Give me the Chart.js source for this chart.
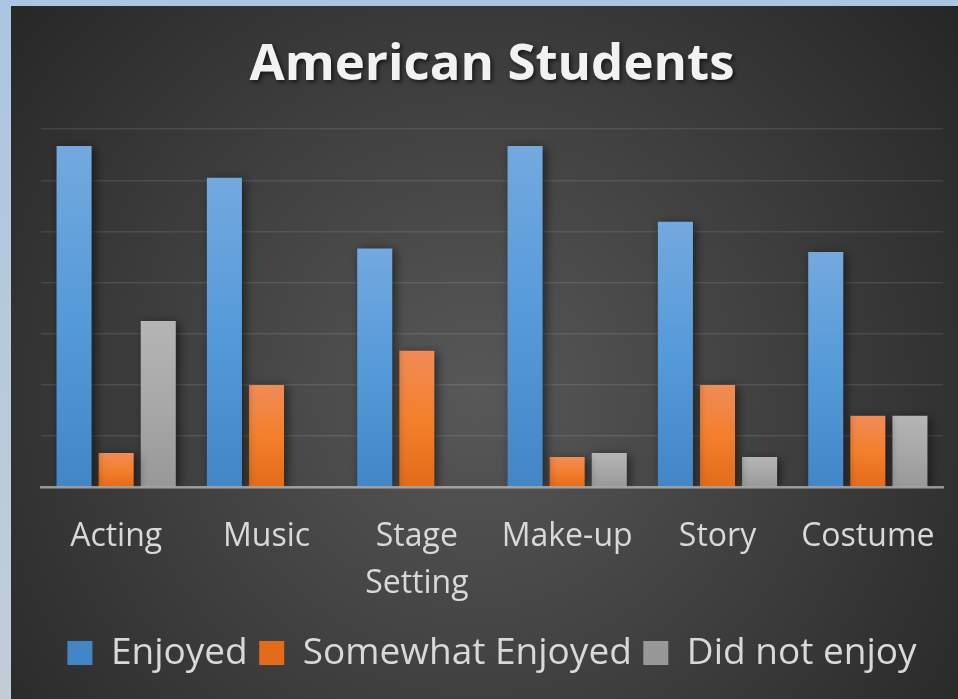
<!DOCTYPE html>
<html>
<head>
<meta charset="utf-8">
<script src="https://cdn.jsdelivr.net/npm/chart.js@4/dist/chart.umd.min.js"></script>
<style>
  html, body { margin: 0; padding: 0; width: 958px; height: 699px; overflow: hidden; }
  body { background: linear-gradient(#abc6e2, #c3cdd8); position: relative; }
  #wrap { position: absolute; left: 11px; top: 6px; width: 947px; height: 693px; }
</style>
</head>
<body>
<div id="wrap"><canvas id="c" width="947" height="693"></canvas></div>
<script>
// Activity categories (Stage Setting wraps onto two lines)
const categories = ['Acting', 'Music', ['Stage', 'Setting'], 'Make-up', 'Story', 'Costume'];
const seriesNames = ['Enjoyed', 'Somewhat Enjoyed', 'Did not enjoy'];

// Share of students per answer (%)
const enjoyed         = [66.7, 60.5, 46.7, 66.7, 51.9, 46.0];
const somewhatEnjoyed = [6.7, 20.0, 26.7, 5.9, 20.0, 14.0];
const didNotEnjoy     = [32.5, 0, 0, 6.7, 5.9, 14.0];

// Value axis range
const axisMin = 0;
const axisMax = 70;
const axisStep = 10;

// Per-bar vertical gradient, lighter at the top
function barFill(stops, solid) {
  return (ctx) => {
    const chart = ctx.chart;
    if (ctx.type !== 'data' || !chart.chartArea || !chart.scales.y) return solid;
    const y = chart.scales.y;
    const top = y.getPixelForValue(ctx.raw);
    const base = y.getPixelForValue(0);
    if (!(base - top > 0.5)) return solid;
    const g = chart.ctx.createLinearGradient(0, top, 0, base);
    stops.forEach(([o, c]) => g.addColorStop(o, c));
    return g;
  };
}

const blueStops   = [[0, '#73a9df'], [0.5, '#559ad9'], [1, '#4386c8']];
const orangeStops = [[0, '#f08c58'], [0.5, '#f47f2c'], [1, '#e36b19']];
const grayStops   = [[0, '#b5b5b5'], [0.5, '#a8a8a8'], [1, '#989898']];

// Dark radial backdrop behind the whole chart
const backdrop = {
  id: 'backdrop',
  beforeDraw(chart) {
    const { ctx, width, height } = chart;
    const g = ctx.createRadialGradient(465, 390, 0, 465, 390, 620);
    g.addColorStop(0, '#585858');
    g.addColorStop(1, '#262626');
    ctx.save();
    ctx.fillStyle = g;
    ctx.fillRect(0, 0, width, height);
    ctx.restore();
  }
};

// Soft drop shadow under the bars
const barShadow = {
  id: 'barShadow',
  beforeDatasetsDraw(chart) {
    const c = chart.ctx;
    c.save();
    c.shadowColor = 'rgba(0,0,0,0.55)';
    c.shadowBlur = 10;
    c.shadowOffsetX = 3;
    c.shadowOffsetY = 2;
  },
  afterDatasetsDraw(chart) {
    chart.ctx.restore();
  }
};

// Drop shadow for the title text
const titleShadow = {
  id: 'titleShadow',
  beforeDraw(chart) {
    const tb = chart.titleBlock;
    if (!tb || tb._shadowed) return;
    const draw = tb.draw.bind(tb);
    tb.draw = function (area) {
      const c = chart.ctx;
      c.save();
      c.shadowColor = 'rgba(0,0,0,0.65)';
      c.shadowBlur = 4;
      c.shadowOffsetX = 2;
      c.shadowOffsetY = 2;
      draw(area);
      c.restore();
    };
    tb._shadowed = true;
  }
};

const labelColor = '#d9d9d9';

new Chart(document.getElementById('c'), {
  type: 'bar',
  data: {
    labels: categories,
    datasets: [
      { label: seriesNames[0], data: enjoyed,         backgroundColor: barFill(blueStops, '#5b9bd5'),   borderWidth: 0 },
      { label: seriesNames[1], data: somewhatEnjoyed, backgroundColor: barFill(orangeStops, '#f07f33'), borderWidth: 0 },
      { label: seriesNames[2], data: didNotEnjoy,     backgroundColor: barFill(grayStops, '#a9a9a9'),   borderWidth: 0 }
    ]
  },
  options: {
    responsive: false,
    animation: false,
    devicePixelRatio: 1,
    categoryPercentage: 0.84,
    barPercentage: 0.833,
    layout: { padding: { left: 30, right: 15, top: 0, bottom: 17.5 } },
    plugins: {
      tooltip: { enabled: false },
      title: {
        display: true,
        text: 'American Students',
        color: '#f2f2f2',
        font: { family: 'Open Sans', size: 51, weight: 'bold', lineHeight: 1.2 },
        padding: { top: 29, bottom: 33 }
      },
      legend: {
        position: 'bottom',
        labels: {
          color: labelColor,
          font: { family: 'Open Sans', size: 37 },
          boxWidth: 25,
          boxHeight: 24,
          padding: 11.5
        }
      }
    },
    scales: {
      x: {
        // fixed band height for the category labels; labels sit inside their own slots
        afterFit(scale) {
          scale.height = 135.7;
          scale.paddingLeft = 0;
          scale.paddingRight = 0;
        },
        grid: { display: false, drawTicks: false },
        border: { display: true, color: 'rgba(200,200,200,0.65)', width: 2.5, z: 1 },
        ticks: {
          color: labelColor,
          font: { family: 'Open Sans', size: 32, lineHeight: 1.44 },
          padding: 27,
          maxRotation: 0,
          autoSkip: false
        }
      },
      y: {
        min: axisMin,
        max: axisMax,
        ticks: { display: false, stepSize: axisStep },
        grid: { color: 'rgba(255,255,255,0.1)', lineWidth: 1.5, drawTicks: false },
        border: { display: false }
      }
    }
  },
  plugins: [backdrop, barShadow, titleShadow]
});
</script>
</body>
</html>
